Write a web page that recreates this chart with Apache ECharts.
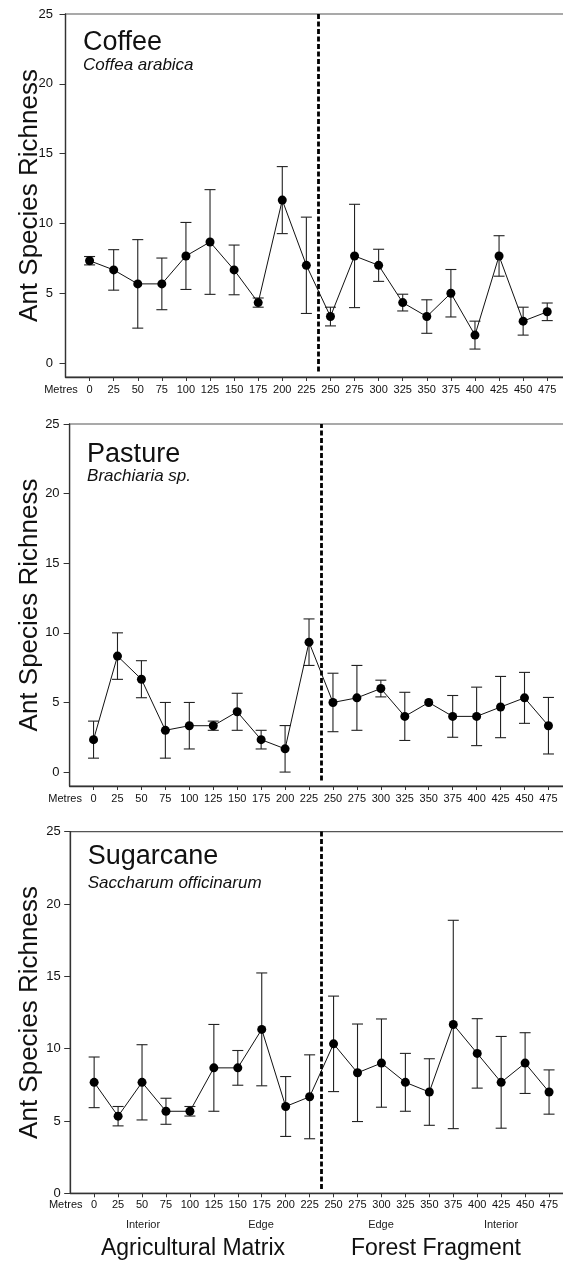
<!DOCTYPE html>
<html>
<head>
<meta charset="utf-8">
<script src="https://cdn.jsdelivr.net/npm/echarts@6/dist/echarts.min.js"></script>
<style>
html,body{margin:0;padding:0;background:#fff;overflow:hidden;}
#chart{width:600px;height:1262px;}
</style>
</head>
<body>
<div id="chart"></div>
<script>
// ---- data ----
const distances = [0,25,50,75,100,125,150,175,200,225,250,275,300,325,350,375,400,425,450,475];
const xTickLabels = ['Metres','0','25','50','75','100','125','150','175','200','225','250','275','300','325','350','375','400','425','450','475'];
const yTickValues = [0,5,10,15,20,25];

const coffeeMean = [7.33,6.67,5.67,5.67,7.67,8.67,6.67,4.33,11.67,7.0,3.33,7.67,7.0,4.33,3.33,5.0,2.0,7.67,3.0,3.67];
const coffeeSE   = [0.3,1.45,3.17,1.85,2.4,3.75,1.78,0.33,2.4,3.45,0.67,3.7,1.15,0.6,1.2,1.7,1.0,1.45,1.0,0.63];

const pastureMean = [2.33,8.33,6.67,3.0,3.33,3.33,4.33,2.33,1.67,9.33,5.0,5.33,6.0,4.0,5.0,4.0,4.0,4.67,5.33,3.33];
const pastureSE   = [1.33,1.67,1.33,2.0,1.67,0.33,1.33,0.67,1.67,1.67,2.1,2.33,0.6,1.73,0,1.5,2.1,2.2,1.83,2.03];

const sugarMean = [7.67,5.33,7.67,5.67,5.67,8.67,8.67,11.33,6.0,6.67,10.33,8.33,9.0,7.67,7.0,11.67,9.67,7.67,9.0,7.0];
const sugarSE   = [1.75,0.67,2.6,0.9,0.33,3.0,1.2,3.9,2.07,2.9,3.3,3.37,3.05,2.0,2.3,7.2,2.4,3.17,2.1,1.53];

const panelTitles = ['Coffee','Pasture','Sugarcane'];
const panelSpecies = ['Coffea arabica','Brachiaria sp.','Saccharum officinarum'];
const yAxisTitle = 'Ant Species Richness';
const boundaryMetres = 237.5;
const boundaryLow = [-0.6,-0.6,0.3];
const zoneLabels = ['Interior','Edge','Edge','Interior'];
const habitatLabels = ['Agricultural Matrix','Forest Fragment'];

// ---- layout ----
const FONT = '"Liberation Sans", Arial, sans-serif';
const panels = [
  {mean: coffeeMean, se: coffeeSE, grid:{left:65.5, top:14, width:501, height:363}, ymin:-1, tTop:42.5, sTop:66, lblMargin:12.5, nameGap:23},
  {mean: pastureMean, se: pastureSE, grid:{left:69.6, top:424, width:498, height:362}, ymin:-1, tTop:454.7, sTop:477, lblMargin:10, nameGap:27},
  {mean: sugarMean, se: sugarSE, grid:{left:70.2, top:831.6, width:498, height:361.7}, ymin:0, tTop:856.7, sTop:884, lblMargin:9.5, nameGap:27.5}
];

const grids = [], xAxes = [], yAxes = [], series = [], graphics = [];

panels.forEach((p, i) => {
  grids.push(Object.assign({show:true, borderColor:'#555', borderWidth:1.2, containLabel:false}, p.grid));
  xAxes.push({
    type:'value', gridIndex:i, min:-25, max:495, interval:25,
    axisLine:{show:true, onZero:false, lineStyle:{color:'#333', width:1.3}},
    axisTick:{show:true, length:4, customValues: distances, lineStyle:{color:'#333'}},
    splitLine:{show:false},
    axisLabel:{
      customValues:[-25].concat(distances),
      fontFamily:FONT, fontSize:11, color:'#111', margin: i===2 ? 6 : 7,
      formatter: function(v){
        const idx = [-25].concat(distances).indexOf(v);
        if (idx < 0) return '';
        return idx === 0 ? '{m|' + xTickLabels[0] + '}' : xTickLabels[idx];
      },
      rich:{m:{fontFamily:FONT, fontSize:11, color:'#111', padding:[0,9,0,0]}}
    }
  });
  const yAx = {
    type:'value', gridIndex:i, min:p.ymin, max:25,
    name: yAxisTitle, nameLocation:'middle', nameGap:p.nameGap, nameMoveOverlap:false,
    nameTextStyle:{fontFamily:FONT, fontSize:26, color:'#111'},
    axisLine:{show:true, onZero:false, lineStyle:{color:'#333', width:1.3}},
    axisTick:{show:true, length:6, lineStyle:{color:'#333'}},
    splitLine:{show:false},
    axisLabel:{fontFamily:FONT, fontSize:13, color:'#111', margin:p.lblMargin}
  };
  if (p.ymin === 0) {
    yAx.interval = 5;
  } else {
    yAx.axisLabel.customValues = yTickValues;
    yAx.axisTick.customValues = yTickValues;
  }
  yAxes.push(yAx);

  const errData = distances.map((d, k) => [d, p.mean[k] - p.se[k], p.mean[k] + p.se[k]]);
  series.push({
    type:'custom', xAxisIndex:i, yAxisIndex:i, z:2, silent:true,
    data: errData,
    encode:{x:0, y:[1,2]},
    renderItem: function(params, api){
      const x = api.value(0), lo = api.value(1), hi = api.value(2);
      if (hi - lo < 0.01) return null;
      const top = api.coord([x, hi]), bot = api.coord([x, lo]);
      const hw = 5.5;
      const st = {stroke:'#222', lineWidth:1.1, fill:null};
      return {type:'group', children:[
        {type:'line', shape:{x1:top[0], y1:top[1], x2:bot[0], y2:bot[1]}, style:st},
        {type:'line', shape:{x1:top[0]-hw, y1:top[1], x2:top[0]+hw, y2:top[1]}, style:st},
        {type:'line', shape:{x1:bot[0]-hw, y1:bot[1], x2:bot[0]+hw, y2:bot[1]}, style:st}
      ]};
    }
  });
  series.push({
    type:'line', xAxisIndex:i, yAxisIndex:i, z:3,
    data: distances.map((d, k) => [d, p.mean[k]]),
    symbol:'circle', symbolSize:9,
    itemStyle:{color:'#000'},
    lineStyle:{color:'#111', width:1},
    markLine:{
      silent:true, symbol:['none','none'], label:{show:false},
      lineStyle:{color:'#000', width:2.8, type:[5,2.5]},
      data:[[{coord:[boundaryMetres, boundaryLow[i]]},{coord:[boundaryMetres, 25]}]]
    }
  });

  graphics.push({type:'text', left:p.grid.left+17.5, top:p.tTop-13.5, style:{text:panelTitles[i], font:'27px ' + FONT, fill:'#111'}});
  graphics.push({type:'text', left:p.grid.left+17.5, top:p.sTop-9, style:{text:panelSpecies[i], font:'italic 17px ' + FONT, fill:'#111'}});
});

// bottom annotations
const zoneX = [143, 261, 381, 501];
zoneLabels.forEach((t, k) => {
  graphics.push({type:'text', x:zoneX[k], y:1225, style:{text:t, font:'11px ' + FONT, fill:'#222', align:'center', verticalAlign:'middle'}});
});
const habX = [193, 436];
habitatLabels.forEach((t, k) => {
  graphics.push({type:'text', x:habX[k], y:1249, style:{text:t, font:'23px ' + FONT, fill:'#111', align:'center', verticalAlign:'middle'}});
});

const chart = echarts.init(document.getElementById('chart'), null, {renderer:'canvas'});
chart.setOption({
  animation:false,
  backgroundColor:'#fff',
  grid: grids,
  xAxis: xAxes,
  yAxis: yAxes,
  series: series,
  graphic: graphics
});
</script>
</body>
</html>
